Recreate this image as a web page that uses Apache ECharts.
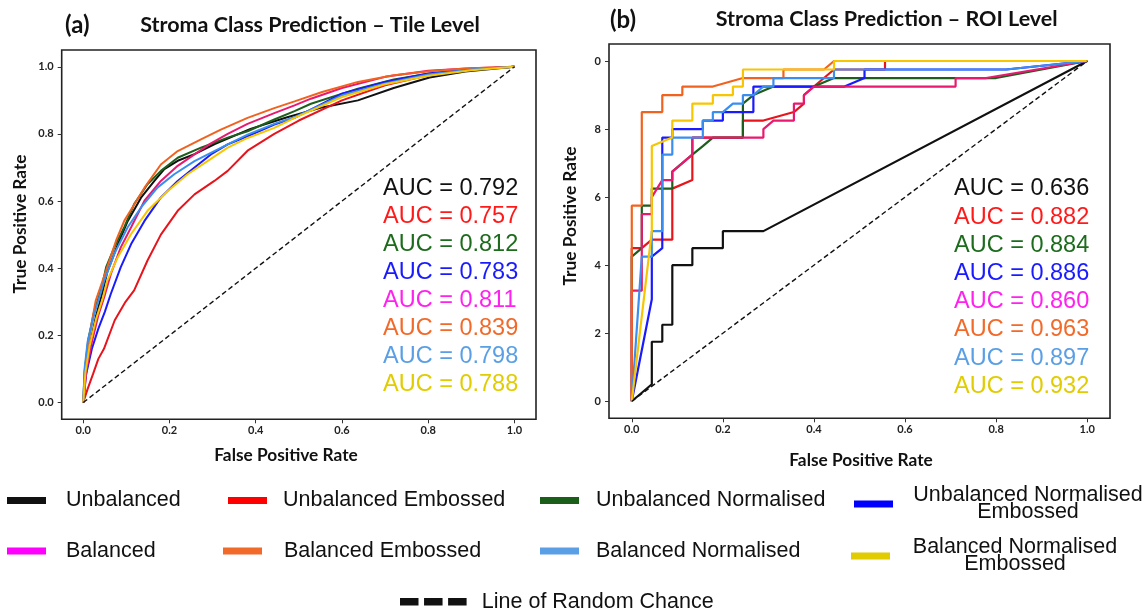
<!DOCTYPE html>
<html><head><meta charset="utf-8">
<script src="https://cdn.jsdelivr.net/npm/echarts@6/dist/echarts.min.js"></script>
<style>html,body{margin:0;padding:0;background:#fff}#c{width:1145px;height:610px}</style>
</head><body><div id="c"></div>
<script>
// ---------- DATA ----------
const seriesNames = ['Unbalanced','Unbalanced Embossed','Unbalanced Normalised','Unbalanced Normalised Embossed','Balanced','Balanced Embossed','Balanced Normalised','Balanced Normalised Embossed'];
const legendLabels = ['Unbalanced','Unbalanced Embossed','Unbalanced Normalised','Unbalanced Normalised\nEmbossed','Balanced','Balanced Embossed','Balanced Normalised','Balanced Normalised\nEmbossed'];
const chanceName = 'Line of Random Chance';
const tileAUC = ['0.792','0.757','0.812','0.783','0.811','0.839','0.798','0.788'];
const roiAUC  = ['0.636','0.882','0.884','0.886','0.860','0.963','0.897','0.932'];
const xTickValues = [0, 0.2, 0.4, 0.6, 0.8, 1.0];
const tileYTickLabels = ['0.0','0.2','0.4','0.6','0.8','1.0'];
const roiYTickLabels = ['0','2','4','6','8','0'];
const xTickLabels = ['0.0','0.2','0.4','0.6','0.8','1.0'];
const chanceLine = [[0,0],[1,1]];

// Panel (a) Tile level ROC curves [FPR, TPR]
const tileUnbalanced = [[0,0],[0.005,0.08],[0.015,0.17],[0.03,0.26],[0.045,0.33],[0.056,0.39],[0.08,0.47],[0.103,0.54],[0.134,0.61],[0.165,0.66],[0.188,0.695],[0.219,0.72],[0.258,0.74],[0.305,0.77],[0.388,0.815],[0.471,0.849],[0.554,0.879],[0.637,0.9],[0.72,0.937],[0.803,0.968],[0.886,0.986],[1,1]];
const tileUnbalancedEmbossed = [[0,0],[0.01,0.04],[0.023,0.086],[0.035,0.13],[0.048,0.16],[0.073,0.245],[0.098,0.3],[0.118,0.334],[0.149,0.423],[0.18,0.5],[0.219,0.571],[0.258,0.62],[0.304,0.66],[0.335,0.69],[0.381,0.75],[0.443,0.8],[0.5,0.84],[0.6,0.9],[0.7,0.945],[0.8,0.975],[0.9,0.992],[1,1]];
const tileUnbalancedNormalised = [[0,0],[0.003,0.09],[0.012,0.19],[0.025,0.27],[0.041,0.334],[0.053,0.403],[0.072,0.462],[0.095,0.522],[0.118,0.591],[0.149,0.65],[0.18,0.69],[0.219,0.729],[0.273,0.759],[0.335,0.789],[0.381,0.808],[0.443,0.843],[0.49,0.868],[0.528,0.89],[0.637,0.935],[0.72,0.962],[0.803,0.98],[0.9,0.993],[1,1]];
const tileUnbalancedNormEmb = [[0,0],[0.006,0.08],[0.02,0.16],[0.035,0.22],[0.05,0.27],[0.064,0.324],[0.087,0.403],[0.111,0.472],[0.142,0.541],[0.18,0.611],[0.219,0.66],[0.258,0.7],[0.296,0.739],[0.335,0.769],[0.381,0.793],[0.443,0.828],[0.49,0.848],[0.6,0.92],[0.7,0.955],[0.8,0.98],[0.9,0.993],[1,1]];
const tileBalanced = [[0,0],[0.008,0.1],[0.02,0.18],[0.035,0.26],[0.05,0.32],[0.064,0.383],[0.087,0.462],[0.111,0.522],[0.142,0.601],[0.18,0.66],[0.219,0.705],[0.258,0.739],[0.296,0.772],[0.335,0.8],[0.381,0.83],[0.443,0.862],[0.49,0.885],[0.528,0.905],[0.6,0.937],[0.7,0.97],[0.8,0.988],[0.9,0.996],[1,1]];
const tileBalancedEmbossed = [[0,0],[0.003,0.08],[0.01,0.16],[0.02,0.24],[0.029,0.304],[0.053,0.393],[0.076,0.482],[0.095,0.541],[0.114,0.581],[0.142,0.64],[0.18,0.709],[0.219,0.749],[0.273,0.784],[0.319,0.813],[0.381,0.848],[0.443,0.877],[0.49,0.897],[0.554,0.925],[0.637,0.955],[0.72,0.975],[0.803,0.987],[0.886,0.995],[1,1]];
const tileBalancedNormalised = [[0,0],[0.003,0.1],[0.01,0.18],[0.025,0.26],[0.049,0.364],[0.072,0.443],[0.103,0.522],[0.134,0.581],[0.172,0.64],[0.211,0.68],[0.258,0.719],[0.335,0.769],[0.381,0.798],[0.443,0.83],[0.49,0.85],[0.6,0.915],[0.7,0.95],[0.8,0.977],[0.9,0.992],[1,1]];
const tileBalancedNormEmb = [[0,0],[0.005,0.09],[0.015,0.17],[0.03,0.25],[0.045,0.31],[0.056,0.364],[0.08,0.433],[0.111,0.502],[0.149,0.571],[0.196,0.63],[0.242,0.68],[0.288,0.719],[0.335,0.759],[0.381,0.788],[0.443,0.818],[0.49,0.848],[0.6,0.91],[0.7,0.948],[0.8,0.973],[0.9,0.99],[1,1]];

// Panel (b) ROI level ROC curves [FPR, TPR]
const roiUnbalanced = [[0,0],[0.044,0.05],[0.044,0.175],[0.067,0.175],[0.067,0.225],[0.089,0.225],[0.089,0.4],[0.133,0.4],[0.133,0.45],[0.2,0.45],[0.2,0.5],[0.289,0.5],[1,1]];
const roiUnbalancedEmbossed = [[0,0],[0,0.45],[0.022,0.45],[0.044,0.475],[0.089,0.475],[0.089,0.625],[0.133,0.65],[0.133,0.775],[0.244,0.775],[0.244,0.825],[0.289,0.825],[0.356,0.85],[0.378,0.875],[0.378,0.9],[0.4,0.925],[0.422,0.95],[0.444,0.975],[0.556,0.975],[0.556,1],[1,1]];
const roiUnbalancedNormalised = [[0,0],[0,0.425],[0.022,0.45],[0.022,0.575],[0.044,0.575],[0.044,0.625],[0.089,0.625],[0.089,0.675],[0.111,0.7],[0.133,0.725],[0.156,0.75],[0.178,0.775],[0.244,0.775],[0.244,0.875],[0.267,0.9],[0.311,0.925],[0.4,0.925],[0.444,0.95],[0.8,0.95],[1,1]];
const roiUnbalancedNormEmb = [[0,0],[0.044,0.3],[0.044,0.425],[0.067,0.45],[0.067,0.775],[0.089,0.775],[0.089,0.8],[0.156,0.8],[0.156,0.825],[0.2,0.825],[0.2,0.85],[0.267,0.85],[0.267,0.925],[0.467,0.925],[0.511,0.95],[0.511,0.975],[0.822,0.975],[1,1]];
const roiBalanced = [[0,0],[0,0.325],[0.022,0.325],[0.022,0.55],[0.044,0.55],[0.044,0.6],[0.067,0.65],[0.089,0.65],[0.089,0.675],[0.111,0.7],[0.133,0.725],[0.133,0.775],[0.289,0.775],[0.289,0.8],[0.311,0.825],[0.356,0.825],[0.356,0.875],[0.378,0.875],[0.378,0.9],[0.4,0.925],[0.711,0.925],[0.711,0.95],[0.778,0.95],[1,1]];
const roiBalancedEmbossed = [[0,0],[0,0.575],[0.022,0.575],[0.022,0.85],[0.067,0.85],[0.067,0.9],[0.111,0.9],[0.111,0.925],[0.178,0.925],[0.244,0.95],[0.333,0.95],[0.333,0.975],[0.422,0.975],[0.444,1],[1,1]];
const roiBalancedNormalised = [[0,0],[0.022,0.425],[0.044,0.425],[0.044,0.5],[0.067,0.5],[0.067,0.725],[0.089,0.725],[0.089,0.775],[0.156,0.775],[0.156,0.825],[0.178,0.825],[0.178,0.85],[0.2,0.85],[0.222,0.875],[0.244,0.875],[0.244,0.9],[0.267,0.9],[0.289,0.925],[0.311,0.925],[0.311,0.95],[0.444,0.95],[0.444,0.975],[0.822,0.975],[1,1]];
const roiBalancedNormEmb = [[0,0],[0.044,0.5],[0.044,0.75],[0.089,0.775],[0.089,0.825],[0.133,0.825],[0.133,0.875],[0.178,0.875],[0.178,0.9],[0.222,0.9],[0.222,0.925],[0.244,0.925],[0.244,0.975],[0.444,0.975],[0.444,1],[1,1]];

const tileCurves = [tileUnbalanced,tileUnbalancedEmbossed,tileUnbalancedNormalised,tileUnbalancedNormEmb,tileBalanced,tileBalancedEmbossed,tileBalancedNormalised,tileBalancedNormEmb];
const roiCurves = [roiUnbalanced,roiUnbalancedEmbossed,roiUnbalancedNormalised,roiUnbalancedNormEmb,roiBalanced,roiBalancedEmbossed,roiBalancedNormalised,roiBalancedNormEmb];

// ---------- STYLE ----------
const lineColors = ['#111111','#e8141c','#1d5e1d','#1a1aff','#e8196e','#f2621f','#3a8eef','#f7c600'];
const swatchColors = ['#111111','#ff0000','#1a5e1a','#0000ff','#ff00ff','#f26a2a','#5a9fe6','#e0cc00'];
const aucColors = ['#111111','#ff1a1a','#1d6b1d','#1a1aff','#ff22ee','#f26a2a','#5a9fe6','#e0cc00'];
const titleFont = 'Lato, "Open Sans", sans-serif';
const plainFont = '"Liberation Sans", Arial, sans-serif';

const legendPos = [
  {left:7,   top:489.5, pad:15, w:0},
  {left:228, top:489.5, pad:11, w:0},
  {left:540, top:489.5, pad:12, w:0},
  {left:854, top:484.5, pad:12, w:236},
  {left:7,   top:540,   pad:15, w:0},
  {left:223, top:540,   pad:17, w:0},
  {left:540, top:540,   pad:12, w:0},
  {left:851, top:536.5, pad:15, w:210}
];

function axisX(gridIndex){
  return {
    type:'value', gridIndex, min:-0.05, max:1.05,
    axisLine:{show:false,onZero:false}, splitLine:{show:false},
    axisTick:{show:true, customValues:xTickValues, length:4, lineStyle:{color:'#333',width:1}},
    axisLabel:{customValues:xTickValues, margin:6, fontFamily:titleFont, fontWeight:'bold', fontSize:11, color:'#222',
      formatter:v=>xTickLabels[Math.round(v*5)]}
  };
}
function axisY(gridIndex, labels){
  return {
    type:'value', gridIndex, min:-0.05, max:1.05,
    axisLine:{show:false,onZero:false}, splitLine:{show:false},
    axisTick:{show:true, customValues:xTickValues, length:4, lineStyle:{color:'#333',width:1}},
    axisLabel:{customValues:xTickValues, margin:8, fontFamily:titleFont, fontWeight:'bold', fontSize:11, color:'#222',
      formatter:v=>labels[Math.round(v*5)]}
  };
}

const series = [];
tileCurves.forEach((d,i)=>series.push({name:seriesNames[i], type:'line', xAxisIndex:0, yAxisIndex:0, data:d, showSymbol:false, symbol:'none', color:lineColors[i], lineStyle:{width:2,color:lineColors[i]}, z:2+i}));
series.push({name:chanceName, type:'line', xAxisIndex:0, yAxisIndex:0, data:chanceLine, showSymbol:false, symbol:'none', color:'#111', lineStyle:{width:1.4,color:'#111',type:[5,3]}, z:20});
roiCurves.forEach((d,i)=>series.push({name:seriesNames[i], type:'line', xAxisIndex:1, yAxisIndex:1, data:d, showSymbol:false, symbol:'none', color:lineColors[i], lineStyle:{width:2.2,color:lineColors[i]}, z:2+i}));
series.push({name:chanceName, type:'line', xAxisIndex:1, yAxisIndex:1, data:chanceLine, showSymbol:false, symbol:'none', color:'#111', lineStyle:{width:1.4,color:'#111',type:[5,3]}, z:20});

const legends = seriesNames.map((n,i)=>{
  const p = legendPos[i];
  const lines = legendLabels[i].split('\n');
  const textStyle = {fontFamily:plainFont, fontSize:21.5, color:'#111', lineHeight:22, padding:[0,0,0,p.pad]};
  let formatter;
  if (lines.length>1){
    textStyle.lineHeight = 17;
    textStyle.rich = {c:{width:p.w, align:'center', fontFamily:plainFont, fontSize:21.5, lineHeight:17, color:'#111'}};
    formatter = ()=>lines.map(l=>'{c|'+l+'}').join('\n');
  }
  return {
    show:true, selectedMode:false, padding:0, left:p.left, top:p.top, orient:'horizontal',
    itemWidth:39, itemHeight:7, icon:'rect',
    data:[{name:n, icon:'rect', itemStyle:{color:swatchColors[i], borderWidth:0}}],
    textStyle, formatter
  };
});
legends.push({
  show:true, selectedMode:false, padding:0, left:400, top:590.7,
  itemWidth:67, itemHeight:7.4,
  data:[{name:chanceName, icon:'path://M0,0h20v8h-20z M26,0h20v8h-20z M52,0h20v8h-20z', itemStyle:{color:'#111', borderWidth:0}}],
  textStyle:{fontFamily:plainFont, fontSize:21.5, color:'#111', lineHeight:22, padding:[0,0,0,10]}
});

const graphics = [];
function txt(x,y,text,opts){
  graphics.push(Object.assign({type:'text', x, y, silent:true, style:Object.assign({text, fill:'#111', align:'left', verticalAlign:'middle'}, opts.style||{})}, opts.el||{}));
}
txt(65,25,'(a)',{style:{fontFamily:titleFont, fontWeight:'bold', fontSize:24}});
txt(310,25,'Stroma Class Prediction – Tile Level',{style:{fontFamily:titleFont, fontWeight:'bold', fontSize:21.5, align:'center'}});
txt(610,20,'(b)',{style:{fontFamily:titleFont, fontWeight:'bold', fontSize:24}});
txt(886.7,19.5,'Stroma Class Prediction – ROI Level',{style:{fontFamily:titleFont, fontWeight:'bold', fontSize:21.5, align:'center'}});
txt(286,455,'False Positive Rate',{style:{fontFamily:titleFont, fontWeight:'bold', fontSize:17.3, align:'center'}});
txt(861,460,'False Positive Rate',{style:{fontFamily:titleFont, fontWeight:'bold', fontSize:17.3, align:'center'}});
txt(20,224,'True Positive Rate',{style:{fontFamily:titleFont, fontWeight:'bold', fontSize:17.3, align:'center'}, el:{rotation:Math.PI/2}});
txt(570,216,'True Positive Rate',{style:{fontFamily:titleFont, fontWeight:'bold', fontSize:17.3, align:'center'}, el:{rotation:Math.PI/2}});
tileAUC.forEach((v,i)=>txt(383, 189+i*28.0, 'AUC = '+v, {style:{fontFamily:plainFont, fontSize:23.5, fill:aucColors[i]}}));
roiAUC.forEach((v,i)=>txt(954, 189+i*28.2, 'AUC = '+v, {style:{fontFamily:plainFont, fontSize:23.5, fill:aucColors[i]}}));

const chart = echarts.init(document.getElementById('c'), null, {renderer:'canvas'});
chart.setOption({
  animation:false,
  backgroundColor:'#fff',
  grid:[
    {left:61.7, top:50, width:474.3, height:369.3, show:true, borderColor:'#222', borderWidth:1.6, backgroundColor:'transparent', containLabel:false},
    {left:609, top:44, width:501, height:374.3, show:true, borderColor:'#222', borderWidth:1.6, backgroundColor:'transparent', containLabel:false}
  ],
  xAxis:[axisX(0), axisX(1)],
  yAxis:[axisY(0, tileYTickLabels), axisY(1, roiYTickLabels)],
  legend:legends,
  series,
  graphic:graphics
});
</script></body></html>
